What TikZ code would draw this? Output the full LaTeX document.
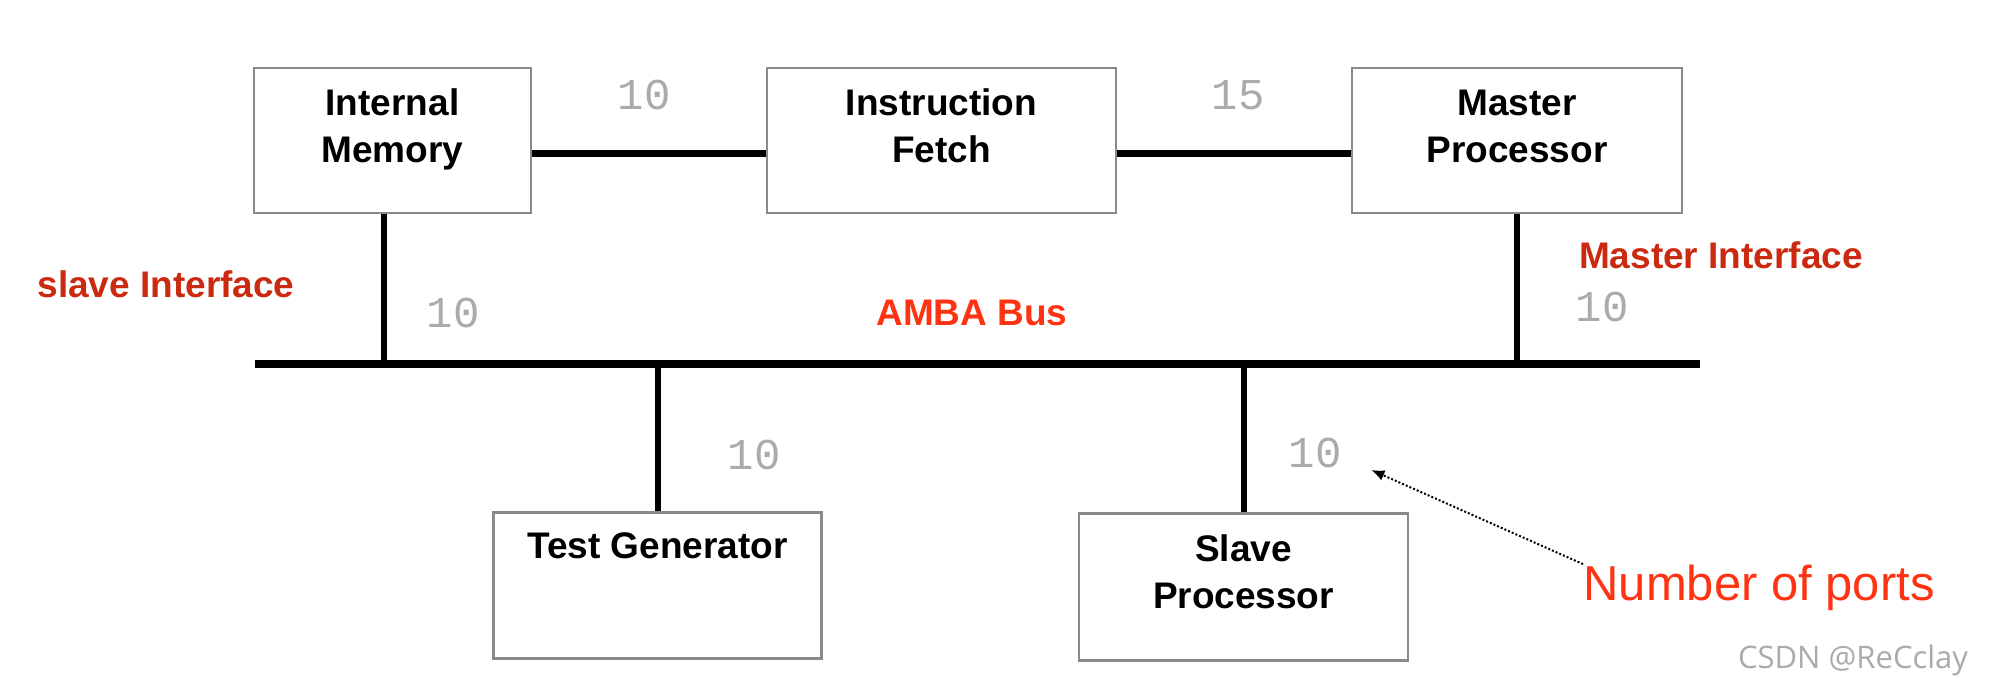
\documentclass[tikz,border=0pt]{standalone}
\usepackage{fontspec}
\setmainfont{Liberation Sans}
\newfontfamily\portfont{Liberation Mono}
\newfontfamily\wmfont{Open Sans}
\usetikzlibrary{arrows.meta}
\definecolor{boxgray}{HTML}{8A8A8A}
\definecolor{numgray}{HTML}{ABABAB}
\definecolor{ifred}{HTML}{CC2A10}
\definecolor{busred}{HTML}{FF3311}
\definecolor{wmgray}{HTML}{ABABAB}
\begin{document}
\begin{tikzpicture}[x=0.5pt,y=-0.5pt,
  box/.style={draw=boxgray, line width=1.2pt, fill=white, inner sep=0pt},
  boxtext/.style={font=\bfseries\fontsize{18.5}{23.5}\selectfont, align=center, inner sep=0pt, anchor=north},
  link/.style={line width=3.5pt},
  drop/.style={line width=3pt},
  busline/.style={line width=4pt},
  redlab/.style={font=\bfseries\fontsize{18.5}{22}\selectfont, inner sep=0pt},
  portnum/.style={font=\portfont\fontsize{22}{24}\selectfont, text=numgray, inner sep=0pt},
  ptr/.style={line width=1pt, dash pattern=on 1pt off 1pt, -{Latex[length=6.5pt,width=5.5pt]}}
]
\useasboundingbox[fill=white] (0,0) rectangle (2000,698);

% bus
\coordinate (busL) at (255,364);
\coordinate (busR) at (1700,364);

% boxes
\node[box, minimum width=138.5pt, minimum height=72.5pt] (im) at (392.5,140.5) {};
\node[box, minimum width=174.5pt, minimum height=72.5pt] (ifetch) at (941.5,140.5) {};
\node[box, minimum width=165pt, minimum height=72.5pt] (mp) at (1517,140.5) {};
\node[box, minimum width=164pt, minimum height=73pt] (tg) at (657.5,585.5) {};
\node[box, minimum width=164.5pt, minimum height=73.5pt] (sp) at (1243.5,587) {};

\node[boxtext] (imt) at ([yshift=-10.5pt]im.north) {Internal\\Memory};
\node[boxtext] (ift) at ([yshift=-10.5pt]ifetch.north) {Instruction\\Fetch};
\node[boxtext] (mpt) at ([yshift=-11.5pt]mp.north) {Master\\Processor};
\node[boxtext] (tgt) at ([yshift=-10.5pt]tg.north) {Test Generator};
\node[boxtext] (spt) at ([yshift=-11pt]sp.north) {Slave\\Processor};

% connectors
\draw[link] ([yshift=-6.25pt]im.east) -- ([yshift=-6.25pt]ifetch.west);
\draw[link] ([yshift=-6.25pt]ifetch.east) -- ([yshift=-6.25pt]mp.west);
\draw[busline] (busL) -- (busR);
\coordinate (imdrop) at ([xshift=-4.25pt]im.south);
\draw[drop] (imdrop) -- (imdrop |- busL);
\draw[drop] (mp.south) -- (mp.south |- busL);
\draw[drop] (tg.north) -- (tg.north |- busL);
\draw[drop] (sp.north) -- (sp.north |- busL);

% labels
\node[redlab, text=ifred] (slaveif) at (166,284) {slave Interface};
\node[redlab, text=ifred] (masterif) at (1721,255) {Master Interface};
\node[redlab, text=busred] (amba) at (972,313) {AMBA Bus};

\node[portnum] (n1) at (644,95) {10};
\node[portnum] (n2) at (1238,95) {15};
\node[portnum] (n3) at (453,313) {10};
\node[portnum] (n4) at (1602,307) {10};
\node[portnum] (n5) at (754,455) {10};
\node[portnum] (n6) at (1315,453) {10};

\node[font=\fontsize{24.5}{28}\selectfont, text=busred, anchor=base west, inner sep=0pt] (npl) at (1583,600) {Number of ports};
\node[font=\wmfont\fontsize{15.5}{18}\selectfont, text=wmgray, inner sep=0pt] (wm) at (1853,660) {CSDN @ReCclay};

\draw[ptr] (npl.north west) -- ([xshift=14.8pt,yshift=-8.5pt]n6.east);
\end{tikzpicture}
\end{document}
